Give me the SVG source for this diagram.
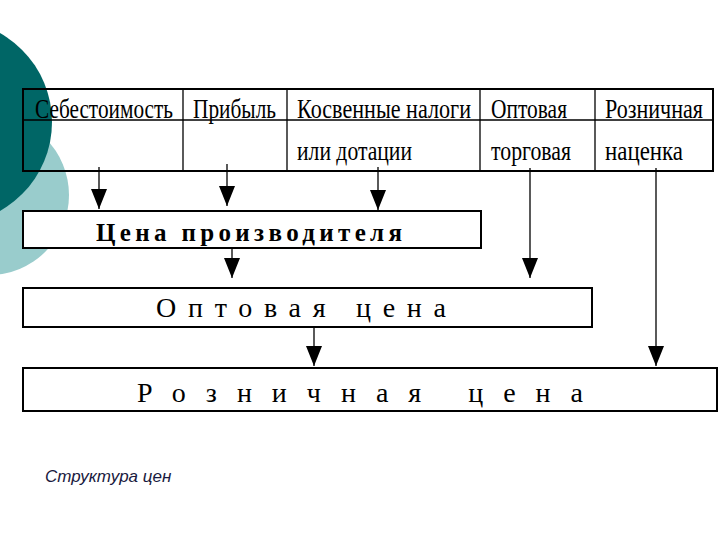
<svg xmlns="http://www.w3.org/2000/svg" width="720" height="540" viewBox="0 0 720 540">
<style>
.b{fill:#fff;stroke:#000;stroke-width:2}
.l{stroke:#000;stroke-width:1.3;fill:none}
.t{font-family:"Liberation Serif",serif;font-size:27px;fill:#000}
.s{font-family:"Liberation Serif",serif;font-size:25px;font-weight:bold;fill:#000}
.w{font-family:"Liberation Serif",serif;font-size:28px;fill:#000}
</style>
<defs>
<marker id="m" markerWidth="20" markerHeight="16" refX="20" refY="8" orient="auto" markerUnits="userSpaceOnUse" viewBox="0 0 20 16"><path d="M0,0 L20,8 L0,16 Z" fill="#000"/></marker></defs>
<g id="bg">
<circle cx="-11" cy="195" r="80" fill="#99CCCC"/>
<circle cx="-50" cy="122" r="102" fill="#006666"/>
</g>
<g id="table">
<rect class="b" x="23" y="89" width="690" height="82" fill-opacity="0"/>
<line class="l" x1="23" y1="120" x2="713" y2="120"/>
<line class="l" x1="183" y1="89" x2="183" y2="171"/>
<line class="l" x1="287" y1="89" x2="287" y2="171"/>
<line class="l" x1="480" y1="89" x2="480" y2="171"/>
<line class="l" x1="595" y1="89" x2="595" y2="171"/>
<text class="t" x="35" y="118" textLength="138" lengthAdjust="spacingAndGlyphs">Себестоимость</text>
<text class="t" x="193" y="118" textLength="83" lengthAdjust="spacingAndGlyphs">Прибыль</text>
<text class="t" x="297" y="118" textLength="174" lengthAdjust="spacingAndGlyphs">Косвенные  налоги</text>
<text class="t" x="297" y="160" textLength="115" lengthAdjust="spacingAndGlyphs">или дотации</text>
<text class="t" x="491" y="118" textLength="76" lengthAdjust="spacingAndGlyphs">Оптовая</text>
<text class="t" x="491" y="160" textLength="80" lengthAdjust="spacingAndGlyphs">торговая</text>
<text class="t" x="605" y="118" textLength="98" lengthAdjust="spacingAndGlyphs">Розничная</text>
<text class="t" x="605" y="160" textLength="78" lengthAdjust="spacingAndGlyphs">наценка</text>
</g>
<g id="producer">
<rect class="b" x="23" y="211" width="458" height="37"/>
<text class="s" x="96" y="241" textLength="306" lengthAdjust="spacing">Цена  производителя</text>
</g>
<g id="wholesale">
<rect class="b" x="23" y="288" width="569" height="39"/>
<text class="w" x="156" y="317" textLength="290" lengthAdjust="spacing">Оптовая   цена</text>
</g>
<g id="retail">
<rect class="b" x="23" y="368" width="694" height="43"/>
<text class="w" x="137" y="402" textLength="446" lengthAdjust="spacing">Розничная   цена</text>
</g>
<g id="connectors" class="l" marker-end="url(#m)">
<line x1="99" y1="167" x2="99" y2="209"/>
<line x1="227" y1="164" x2="227" y2="206"/>
<line x1="378" y1="167" x2="378" y2="210"/>
<line x1="232" y1="248" x2="232" y2="278"/>
<line x1="530" y1="168" x2="530" y2="278"/>
<line x1="314" y1="327" x2="314" y2="366"/>
<line x1="656" y1="168" x2="656" y2="366"/>
</g>
<text x="45" y="482" font-family="Liberation Sans,sans-serif" font-style="italic" font-size="17" fill="#1a1a40">Структура цен</text>
</svg>
